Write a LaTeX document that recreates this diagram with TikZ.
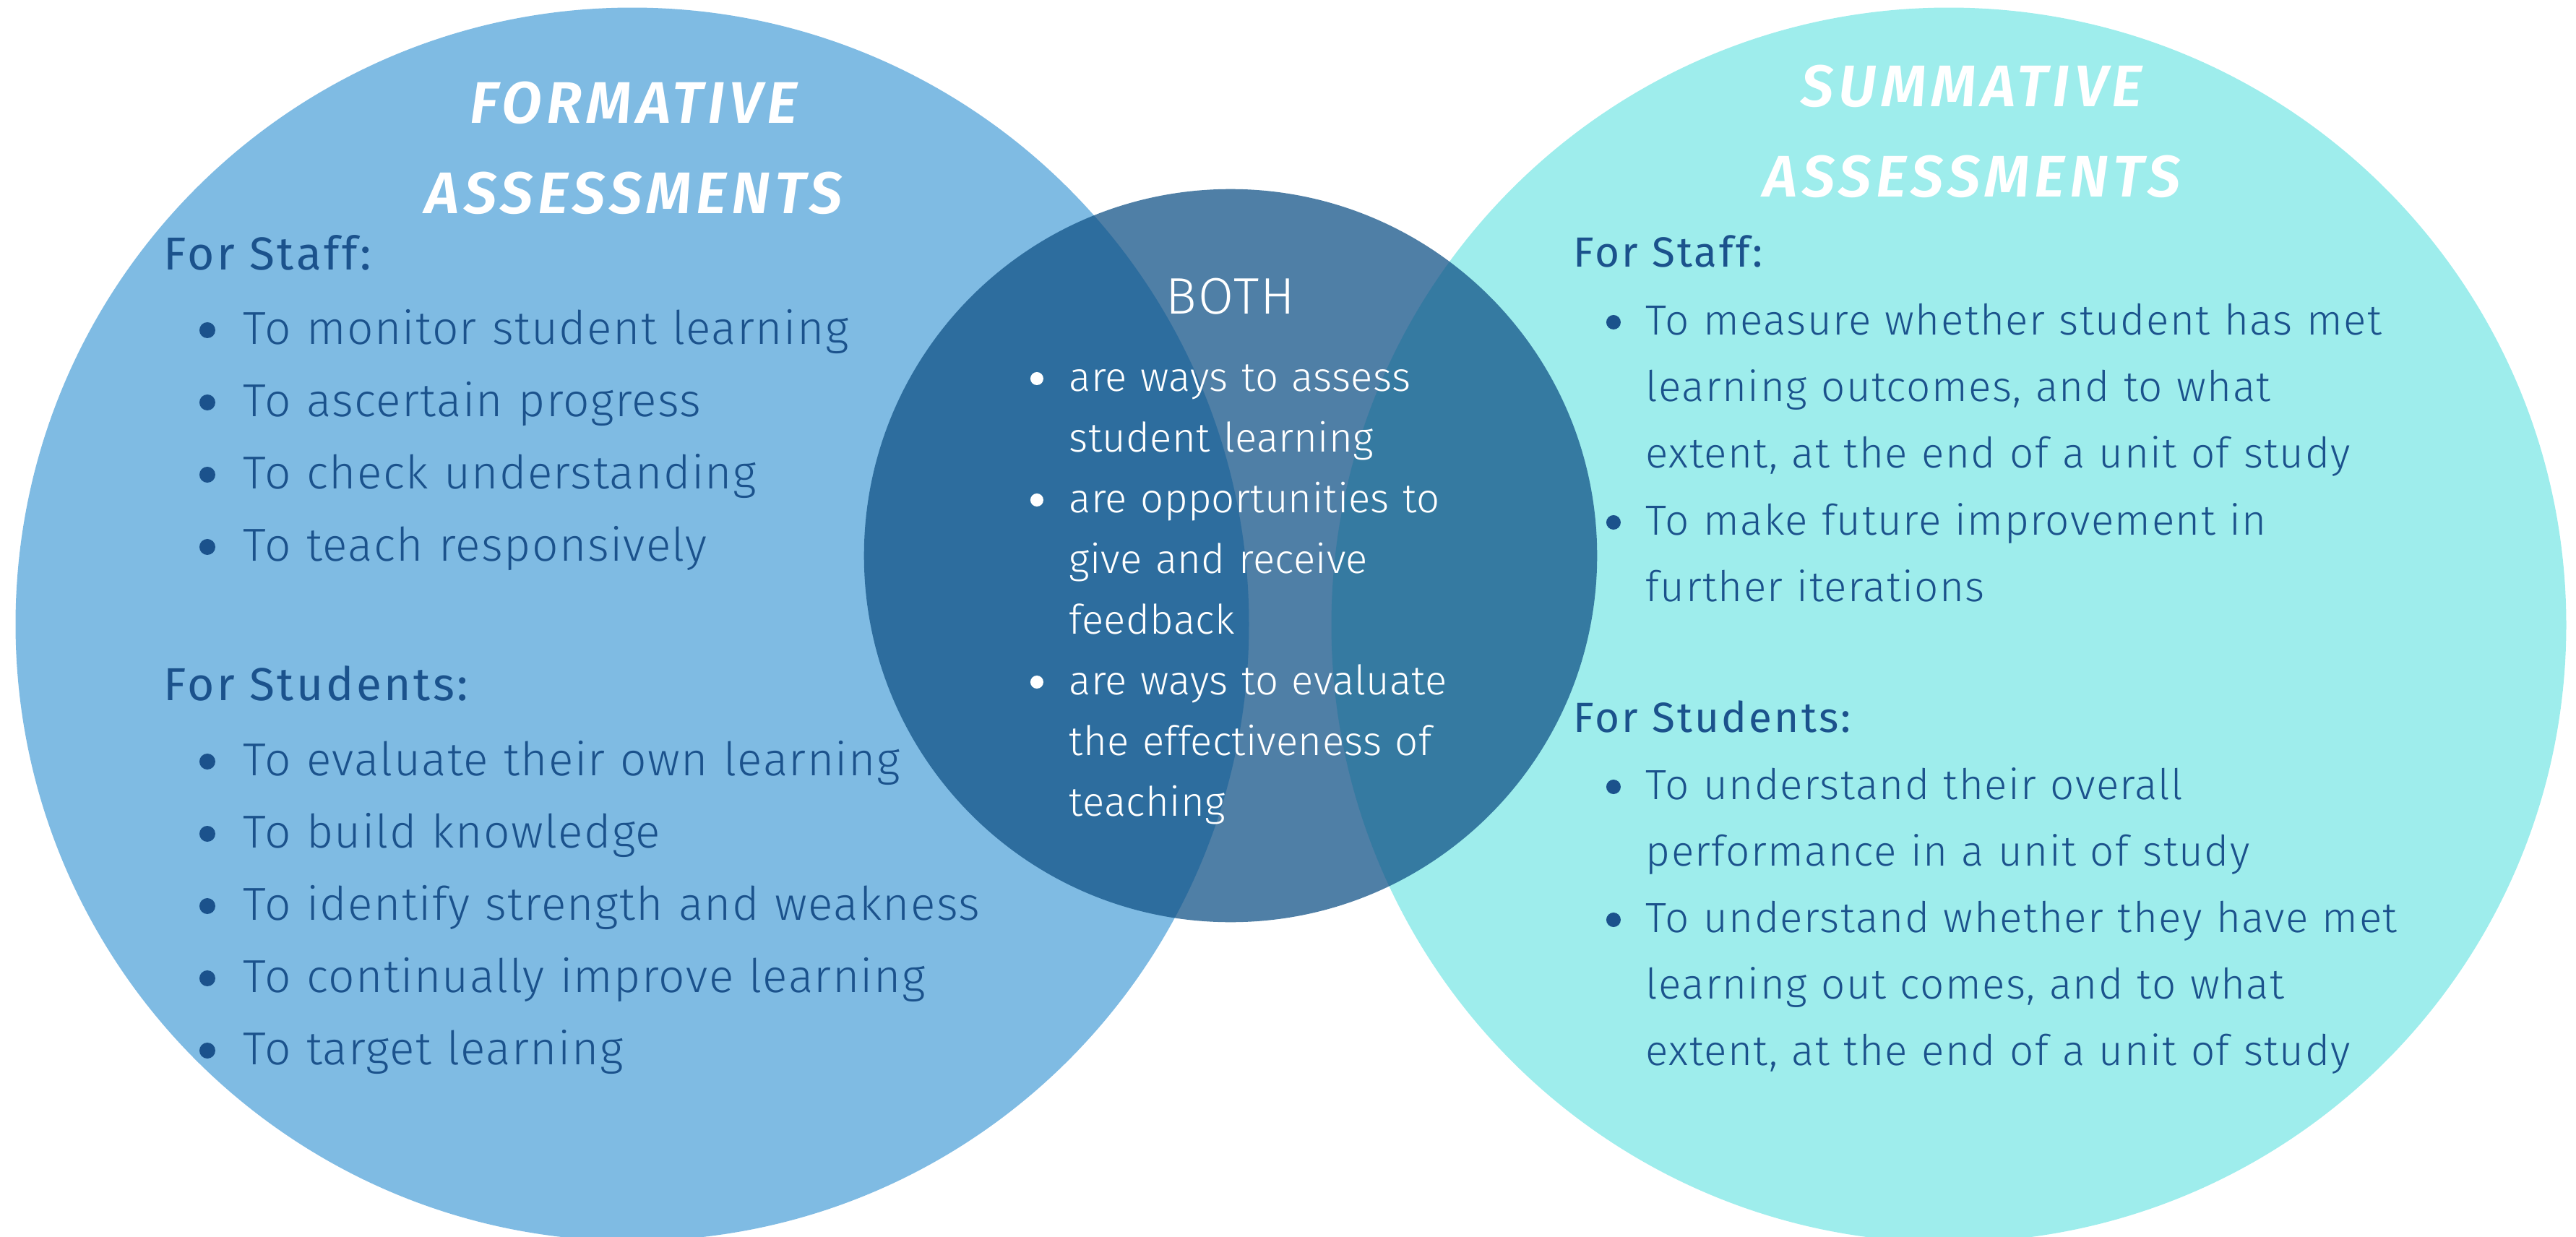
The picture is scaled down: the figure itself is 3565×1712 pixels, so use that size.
\documentclass[tikz,border=0pt]{standalone}
\usepackage{fontspec}
\setmainfont{Fira Sans}[UprightFont=* Light, BoldItalicFont=* SemiBold Italic]
\newfontfamily\headfont{Fira Sans}[LetterSpace=5.5]
\usepackage{xcolor}
\definecolor{formativeblue}{HTML}{7FBBE3}
\definecolor{summativeaqua}{HTML}{9EEDEC}
\definecolor{bothblue}{HTML}{115287}
\definecolor{textblue}{HTML}{1B528C}
\usepackage{tikz}
\usetikzlibrary{positioning}
\newcommand{\listitem}[4]{
\node (#1) [#2] at (#3) {#4};
\node (#1Dot) [#2Dot] at (#1.base west) {};}
\tikzstyle{setCircle}=[circle, inner sep=0pt, draw=none]
\tikzstyle{formativeSet}=[setCircle, fill=formativeblue, minimum size=17.06cm]
\tikzstyle{summativeSet}=[setCircle, fill=summativeaqua, minimum size=17.08cm]
\tikzstyle{bothSet}=[setCircle, fill=bothblue, fill opacity=0.74, minimum size=10.14cm]
\tikzstyle{setTitle}=[align=center, inner sep=0pt, text=white,
        font={\fontsize{23.1}{35.6}\selectfont\bfseries\itshape\addfontfeatures{LetterSpace=8}}]
\tikzstyle{heading}=[anchor=base west, inner sep=0pt, text=textblue,
        font={\headfont\fontsize{18.2}{28.45}\selectfont}]
\tikzstyle{rightHeading}=[heading, font={\headfont\fontsize{16.6}{26.2}\selectfont}]
\tikzstyle{itemText}=[anchor=base west, inner sep=0pt, text width=12cm, align=left]
\tikzstyle{itemDot}=[circle, inner sep=0pt]
\tikzstyle{sideItem}=[itemText, text=textblue,
        font={\fontsize{18.2}{28.45}\selectfont\addfontfeatures{LetterSpace=2.2}}]
\tikzstyle{sideItemDot}=[itemDot, fill=textblue, minimum size=0.22cm, xshift=-0.49cm, yshift=0.19cm]
\tikzstyle{rightItem}=[itemText, text=textblue,
        font={\fontsize{16.6}{26.2}\selectfont\addfontfeatures{LetterSpace=2.4}}]
\tikzstyle{rightItemDot}=[itemDot, fill=textblue, minimum size=0.2cm, xshift=-0.44cm, yshift=0.17cm]
\tikzstyle{bothItem}=[itemText, text=white,
        font={\fontsize{16}{23.9}\selectfont\addfontfeatures{LetterSpace=0.5}}]
\tikzstyle{bothItemDot}=[itemDot, fill=white, minimum size=0.18cm, xshift=-0.44cm, yshift=0.17cm]

\begin{document}
\begin{tikzpicture}[x=0.01cm, y=-0.01cm]
\useasboundingbox (0,0) rectangle (3565,1712);

\node (Formative) [formativeSet] at (875,864) {};
\node (Summative) [summativeSet] at (2697,865) {};
\node (Both) [bothSet] at (1703,769) {};

\node (FormativeTitle) [setTitle] at (877,205) {FORMATIVE\\ASSESSMENTS};
\node (SummativeTitle) [setTitle] at (2729,182) {SUMMATIVE\\ASSESSMENTS};
\node (BothTitle) [anchor=base, inner sep=0pt, text=white,
        font={\fontsize{20.2}{24}\selectfont\addfontfeatures{LetterSpace=3}}] at (1703,434) {BOTH};

% formative
\node (FormativeStaff) [heading] at (226,373) {For Staff:};
\listitem{MonitorLearning}{sideItem}{336,476}{To monitor student learning}
\listitem{AscertainProgress}{sideItem}{336,576}{To ascertain progress}
\listitem{CheckUnderstanding}{sideItem}{336,676}{To check understanding}
\listitem{TeachResponsively}{sideItem}{336,776}{To teach responsively}
\node (FormativeStudents) [heading] at (226,969) {For Students:};
\listitem{EvaluateOwn}{sideItem}{336,1073}{To evaluate their own learning}
\listitem{BuildKnowledge}{sideItem}{336,1173}{To build knowledge}
\listitem{StrengthWeakness}{sideItem}{336,1273}{To identify strength and weakness}
\listitem{ImproveLearning}{sideItem}{336,1373}{To continually improve learning}
\listitem{TargetLearning}{sideItem}{336,1473}{To target learning}

% both
\listitem{AssessLearning}{bothItem}{1479,541}{are ways to assess\\student learning}
\listitem{GiveFeedback}{bothItem}{1479,709}{are opportunities to\\give and receive\\feedback}
\listitem{EvaluateTeaching}{bothItem}{1479,961}{are ways to evaluate\\the effectiveness of\\teaching}

% summative
\node (SummativeStaff) [rightHeading] at (2177,369) {For Staff:};
\listitem{MeasureOutcomes}{rightItem}{2277,463}{To measure whether student has met\\learning outcomes, and to what\\extent, at the end of a unit of study}
\listitem{FutureImprovement}{rightItem}{2277,740}{To make future improvement in\\further iterations}
\node (SummativeStudents) [rightHeading] at (2177,1013) {For Students:};
\listitem{OverallPerformance}{rightItem}{2277,1106}{To understand their overall\\performance in a unit of study}
\listitem{MetOutcomes}{rightItem}{2277,1290}{To understand whether they have met\\learning out comes, and to what\\extent, at the end of a unit of study}

\end{tikzpicture}
\end{document}
